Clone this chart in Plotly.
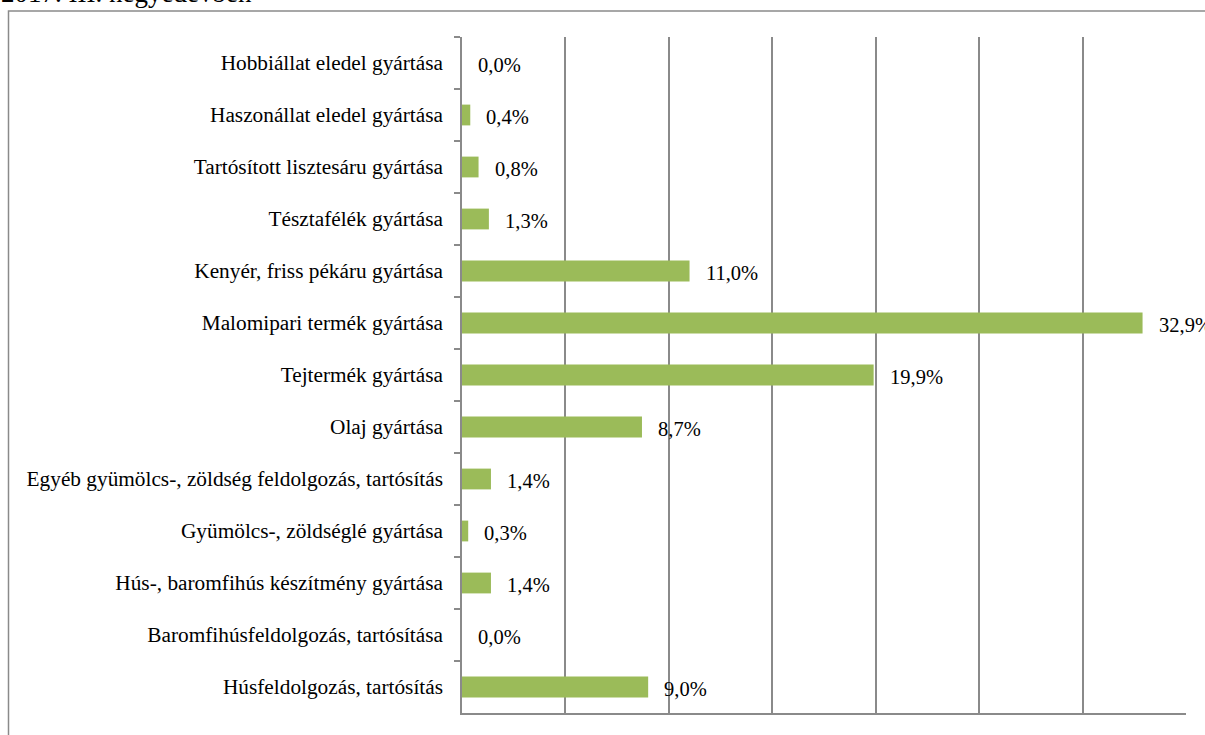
import plotly.graph_objects as go

categories = [
    "Hobbiállat eledel gyártása",
    "Haszonállat eledel gyártása",
    "Tartósított lisztesáru gyártása",
    "Tésztafélék gyártása",
    "Kenyér, friss pékáru gyártása",
    "Malomipari termék gyártása",
    "Tejtermék gyártása",
    "Olaj gyártása",
    "Egyéb gyümölcs-, zöldség feldolgozás, tartósítás",
    "Gyümölcs-, zöldséglé gyártása",
    "Hús-, baromfihús készítmény gyártása",
    "Baromfihúsfeldolgozás, tartósítása",
    "Húsfeldolgozás, tartósítás",
]
values = [0.0, 0.4, 0.8, 1.3, 11.0, 32.9, 19.9, 8.7, 1.4, 0.3, 1.4, 0.0, 9.0]
title_text = "2017. III. negyedévben"

GRAY = "#8a8a8a"
GREEN = "#9bbb59"
FONT = "Liberation Serif, Times New Roman, Tinos, DejaVu Serif, serif"

fig = go.Figure()
fig.add_trace(go.Bar(
    x=values, y=categories, orientation="h",
    marker=dict(color=GREEN, line=dict(width=0)),
    width=0.4, hoverinfo="skip",
))

for c, v in zip(categories, values):
    fig.add_annotation(
        x=v, y=c, xref="x", yref="y",
        text=f"{v:.1f}".replace(".", ",") + "%",
        showarrow=False, xanchor="left", yanchor="middle",
        xshift=14, yshift=-2, font=dict(family=FONT, size=20.5, color="#000000"),
    )

# title partially cut at top
fig.add_annotation(
    x=-0.64, y=1.0 + (37 - 10) / 676, xref="paper", yref="paper",
    text=title_text, showarrow=False, xanchor="left", yanchor="bottom",
    font=dict(family=FONT, size=27, color="#000000"),
)

# outer frame
fig.add_shape(
    type="rect", xref="paper", yref="paper",
    x0=(8.5 - 462) / 724, x1=1.2,
    y0=-0.2, y1=1.0 + (37 - 11) / 676,
    line=dict(color=GRAY, width=1.5), fillcolor="rgba(0,0,0,0)", layer="below",
)

fig.update_layout(
    width=1205, height=735, autosize=False,
    template="none",
    margin=dict(l=462, r=19, t=37, b=22, pad=0),
    paper_bgcolor="white", plot_bgcolor="white",
    showlegend=False,
    font=dict(family=FONT, size=21, color="#000000"),
    xaxis=dict(
        range=[0, 35], dtick=5, tick0=0,
        showgrid=True, gridcolor=GRAY, gridwidth=1.5,
        showticklabels=False, ticks="",
        showline=True, linecolor=GRAY, linewidth=1.5,
        zeroline=False, automargin=False, fixedrange=True,
    ),
    yaxis=dict(
        autorange="reversed", type="category",
        tickson="boundaries", ticks="outside", ticklen=6,
        tickcolor=GRAY, tickwidth=1.5,
        showline=True, linecolor=GRAY, linewidth=1.5,
        showgrid=False, zeroline=False, automargin=False,
        tickfont=dict(family=FONT, size=21.3, color="#000000"),
        ticklabelstandoff=13,
    ),
)

fig.write_html(
    "out.html",
    config={"displayModeBar": False},
    post_script="document.body.style.margin='0';document.body.style.overflow='hidden';",
)
